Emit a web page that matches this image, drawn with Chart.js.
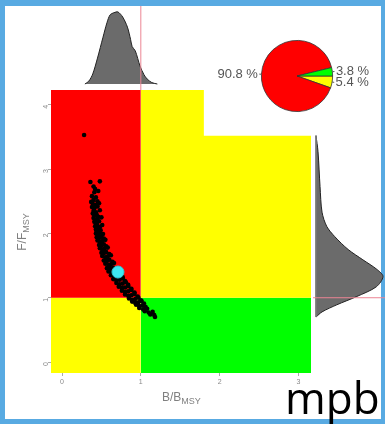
<!DOCTYPE html>
<html>
<head>
<meta charset="utf-8">
<script src="https://cdn.jsdelivr.net/npm/chart.js@4.4.1/dist/chart.umd.min.js"></script>
<style>
html, body { margin:0; padding:0; width:385px; height:424px; overflow:hidden; background:#58aae2; }
#panel { position:absolute; left:5px; top:6px; width:376px; height:413px; background:#fff; }
canvas.full { position:absolute; left:0; top:0; }
#pie { position:absolute; left:200px; top:30px; }
.axt { position:absolute; font-family:"Liberation Sans", Arial, sans-serif; font-size:12px; color:#808080; white-space:nowrap; }
.axt sub { font-size:9px; vertical-align:-3px; }
#xt { left:162px; top:390px; }
#yt { left:-2px; top:224px; transform:rotate(-90deg); transform-origin:center; width:50px; text-align:center; }
#tag { position:absolute; left:285px; top:375px; font-family:"Open Sans", sans-serif; font-size:44px; color:#000; line-height:1; }
</style>
</head>
<body>
<div id="panel"></div>
<canvas id="kobe" class="full" width="385" height="424"></canvas>
<canvas id="topDens" class="full" width="385" height="424"></canvas>
<canvas id="rightDens" class="full" width="385" height="424"></canvas>
<canvas id="pie" width="180" height="95"></canvas>
<div class="axt" id="xt">B/B<sub>MSY</sub></div>
<div class="axt" id="yt">F/F<sub>MSY</sub></div>
<div id="tag">mpb</div>
<script>
// axis ranges and ticks
const xMin = -0.14, xMax = 3.16;
const yMin = -0.17, yMax = 4.23;
const xTicks = [0, 1, 2, 3];
const yTicks = [0, 1, 2, 3, 4];

// posterior draws [B/Bmsy, F/Fmsy]
const draws = [
  [0.28,3.53],[0.36,2.80],[0.48,2.81],[0.40,2.73],[0.46,2.66],[0.41,2.64],[0.42,2.69],
  [0.38,2.58],[0.43,2.56],[0.40,2.52],[0.45,2.50],[0.37,2.49],[0.39,2.46],[0.43,2.44],[0.47,2.47],
  [0.38,2.41],[0.41,2.39],[0.45,2.42],[0.40,2.35],[0.43,2.33],[0.48,2.36],[0.39,2.31],
  [0.41,2.28],[0.44,2.29],[0.46,2.26],[0.40,2.24],[0.42,2.21],[0.45,2.23],[0.50,2.25],
  [0.41,2.18],[0.44,2.16],[0.47,2.19],[0.43,2.13],[0.42,2.11],[0.45,2.12],[0.48,2.10],[0.51,2.13],
  [0.43,2.06],[0.46,2.07],[0.49,2.05],[0.44,2.03],[0.43,2.00],[0.45,1.98],[0.48,2.01],[0.52,1.99],[0.47,1.96],
  [0.44,1.94],[0.47,1.93],[0.50,1.95],[0.53,1.92],[0.45,1.89],[0.48,1.87],[0.51,1.88],[0.55,1.90],[0.49,1.85],
  [0.47,1.82],[0.50,1.81],[0.53,1.83],[0.56,1.80],[0.48,1.77],[0.51,1.75],[0.54,1.76],[0.58,1.78],[0.52,1.73],
  [0.50,1.70],[0.53,1.69],[0.56,1.71],[0.60,1.68],[0.51,1.65],[0.55,1.63],[0.58,1.64],[0.62,1.66],[0.56,1.61],
  [0.53,1.58],[0.57,1.57],[0.60,1.59],[0.64,1.56],[0.55,1.53],[0.59,1.51],[0.62,1.52],[0.66,1.54],[0.60,1.49],
  [0.57,1.46],[0.61,1.45],[0.65,1.47],[0.69,1.44],[0.59,1.41],[0.63,1.39],[0.67,1.40],[0.71,1.42],[0.74,1.38],
  [0.62,1.35],[0.66,1.33],[0.70,1.34],[0.74,1.36],[0.77,1.32],[0.65,1.29],[0.69,1.27],[0.73,1.28],[0.77,1.30],[0.80,1.26],
  [0.69,1.23],[0.73,1.21],[0.77,1.22],[0.81,1.24],[0.84,1.20],[0.72,1.17],[0.76,1.15],[0.80,1.16],[0.84,1.18],[0.88,1.14],
  [0.76,1.11],[0.80,1.09],[0.84,1.10],[0.88,1.12],[0.92,1.08],[0.80,1.05],[0.84,1.03],[0.88,1.04],[0.92,1.06],[0.96,1.02],
  [0.85,0.99],[0.89,0.97],[0.93,0.98],[0.97,1.00],[1.00,0.96],[0.89,0.94],[0.93,0.92],[0.97,0.93],[1.01,0.95],[1.04,0.91],
  [0.94,0.89],[0.98,0.87],[1.02,0.88],[1.06,0.86],[0.98,0.84],[1.03,0.82],[1.08,0.83],[1.05,0.79],[1.10,0.77],[1.15,0.78],
  [1.12,0.74],[1.17,0.73],[1.18,0.70]
];
const current = [0.71, 1.40];

// marginal densities
const topDensB = [0.29,0.34,0.39,0.45,0.52,0.57,0.61,0.66,0.71,0.77,0.83,0.87,0.89,0.93,0.99,1.04,1.08,1.14,1.21];
const topDensH = [0,0.04,0.14,0.36,0.65,0.85,0.96,0.99,1.0,0.93,0.79,0.62,0.52,0.46,0.25,0.13,0.07,0.02,0];
const rightDensF = [3.52,3.27,2.73,2.33,2.11,1.95,1.75,1.59,1.44,1.33,1.17,1.02,0.89,0.78,0.70];
const rightDensW = [0,0.03,0.06,0.09,0.16,0.28,0.48,0.70,0.91,1.0,0.90,0.61,0.31,0.09,0];

// pie: share of draws per quadrant (clockwise from 3 o'clock)
const pieLabels = ['5.4 %', '90.8 %', '3.8 %'];
const pieValues = [5.4, 90.8, 3.8];
const pieColors = ['#ffff00', '#ff0000', '#00ff00'];

const RED = '#ff0000', YELLOW = '#ffff00', GREEN = '#00ff00';

function zone(pts, floor, color) {
  return { type:'line', data: pts.map(p => ({x:p[0], y:p[1]})), fill:{value:floor},
           backgroundColor: color, borderWidth:0, pointRadius:0, showLine:true, tension:0 };
}

const base = { responsive:false, animation:false, devicePixelRatio:1,
  plugins:{ legend:{display:false}, tooltip:{enabled:false} } };

// main kobe plot
new Chart(document.getElementById('kobe'), {
  type:'scatter',
  data:{ datasets:[
    { data:[{x:current[0], y:current[1]}], pointRadius:6, backgroundColor:'#3ee6f0', borderColor:'#2cc9d6', borderWidth:1 },
    { data: draws.map(d => ({x:d[0], y:d[1]})), pointRadius:2.3, backgroundColor:'#000', borderWidth:0 },
    zone([[xMin,yMax],[1,yMax]], 1, RED),
    zone([[1,yMax],[1.8,yMax],[1.8,3.52],[xMax,3.52]], 1, YELLOW),
    zone([[xMin,1],[1,1]], yMin, YELLOW),
    zone([[1,1],[xMax,1]], yMin, GREEN)
  ]},
  options:Object.assign({}, base, {
    layout:{ padding:{left:30, top:90, right:74, bottom:30} },
    scales:{
      x:{ type:'linear', min:xMin, max:xMax,
          afterBuildTicks:s => { s.ticks = xTicks.map(v => ({value:v})); },
          afterFit:s => { s.height = 21; },
          grid:{ drawOnChartArea:false, tickLength:3, color:'#aaa' }, border:{display:false},
          ticks:{ font:{size:7}, color:'#888', padding:2, maxRotation:0 } },
      y:{ type:'linear', min:yMin, max:yMax,
          afterBuildTicks:s => { s.ticks = yTicks.map(v => ({value:v})); },
          afterFit:s => { s.width = 21; },
          grid:{ drawOnChartArea:false, tickLength:3, color:'#aaa' }, border:{display:false},
          ticks:{ font:{size:7}, color:'#888', padding:2, minRotation:90, maxRotation:90 } }
    }
  })
});

// top marginal density of B/Bmsy
new Chart(document.getElementById('topDens'), {
  type:'scatter',
  data:{ datasets:[
    { data:[{x:1, y:-0.2}, {x:1, y:1.2}], showLine:true, borderColor:'#ec8594', borderWidth:1, pointRadius:0 },
    { type:'line', data: topDensB.map((b, i) => ({x:b, y:topDensH[i]})), fill:'origin',
      backgroundColor:'#6b6b6b', borderColor:'#222', borderWidth:1, pointRadius:0, tension:0.3 }
  ]},
  options:Object.assign({}, base, {
    layout:{ padding:{left:51, top:6, right:74, bottom:334} },
    scales:{ x:{type:'linear', display:false, min:xMin, max:xMax},
             y:{type:'linear', display:false, min:-0.083, max:1.083} }
  })
});

// right marginal density of F/Fmsy
new Chart(document.getElementById('rightDens'), {
  type:'scatter',
  data:{ datasets:[
    { data:[{x:-0.1, y:1}, {x:1.1, y:1}], showLine:true, borderColor:'#ec8594', borderWidth:1, pointRadius:0 },
    { data:[{x:0, y:rightDensF[0]}, {x:0, y:rightDensF[rightDensF.length-1]}], showLine:true,
      borderColor:'#777', borderWidth:1, pointRadius:0 },
    { type:'line', data: rightDensF.map((f, i) => ({x:rightDensW[i], y:f})), fill:'shape',
      backgroundColor:'#6b6b6b', borderColor:'#222', borderWidth:1, pointRadius:0, tension:0.3 }
  ]},
  options:Object.assign({}, base, {
    layout:{ padding:{left:313, top:90, right:0, bottom:51} },
    scales:{ x:{type:'linear', display:false, min:-0.045, max:1.03},
             y:{type:'linear', display:false, min:yMin, max:yMax} }
  })
});

// pie labels drawn at the slice mid angles, R style
const pieLabelPlugin = {
  id:'pieLabels',
  afterDraw(chart) {
    const ctx = chart.ctx;
    chart.getDatasetMeta(0).data.forEach((arc, i) => {
      const a = (arc.startAngle + arc.endAngle) / 2;
      const r = arc.outerRadius;
      const c = Math.cos(a), s = Math.sin(a);
      ctx.save();
      ctx.strokeStyle = '#555'; ctx.lineWidth = 1;
      ctx.beginPath();
      ctx.moveTo(arc.x + c*r, arc.y + s*r);
      ctx.lineTo(arc.x + c*r*1.06, arc.y + s*r*1.06);
      ctx.stroke();
      ctx.fillStyle = '#555';
      ctx.font = '13px "Liberation Sans", Arial, sans-serif';
      ctx.textBaseline = 'middle';
      ctx.textAlign = c < 0 ? 'right' : 'left';
      ctx.fillText(pieLabels[i], arc.x + c*r*1.1, arc.y + s*r*1.1);
      ctx.restore();
    });
  }
};

new Chart(document.getElementById('pie'), {
  type:'pie',
  data:{ labels:pieLabels, datasets:[{ data:pieValues, backgroundColor:pieColors, borderColor:'#333', borderWidth:0.8 }] },
  options:Object.assign({}, base, {
    rotation:90,
    layout:{ padding:{left:61, top:10, right:47, bottom:13} }
  }),
  plugins:[pieLabelPlugin]
});
</script>
</body>
</html>
